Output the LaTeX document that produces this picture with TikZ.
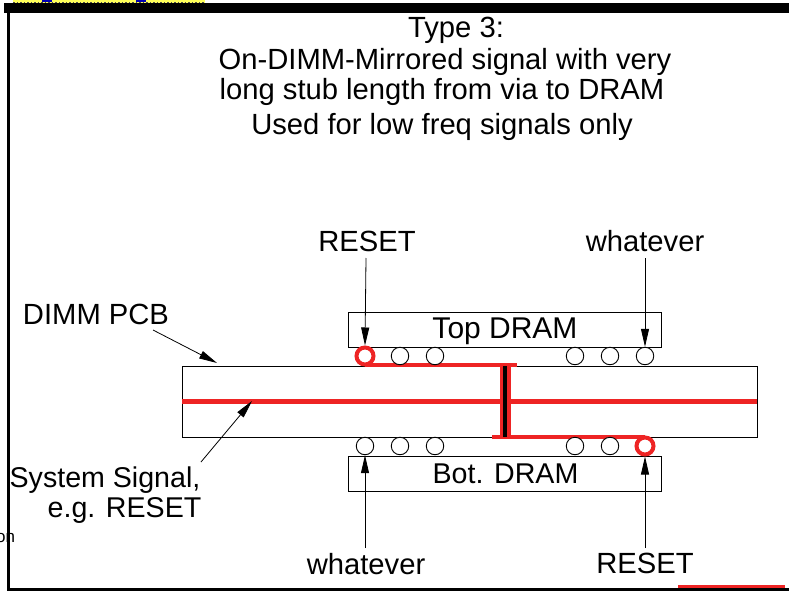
\documentclass[tikz,border=0pt]{standalone}
\usepackage{fontspec}
\setmainfont{Liberation Sans}
\usetikzlibrary{arrows.meta}
\definecolor{redc}{RGB}{238,36,36}
\definecolor{yel}{RGB}{255,255,90}
\tikzset{
  x=1pt,y=-1pt,
  lbl/.style={inner sep=0pt,font=\fontsize{29.2pt}{34pt}\selectfont,text=black,anchor=base},
  lblsm/.style={inner sep=0pt,font=\fontsize{28.6pt}{34pt}\selectfont,text=black,anchor=base},
  lblbg/.style={inner sep=0pt,font=\fontsize{30pt}{34pt}\selectfont,text=black,anchor=base},
  box/.style={draw=black,line width=0.9pt,fill=white,inner sep=0pt,minimum width=313pt,minimum height=35pt},
  ball/.style={circle,draw=black,line width=0.9pt,fill=white,inner sep=0pt,minimum size=17.5pt},
  hot/.style={circle,draw=redc,line width=4pt,fill=white,inner sep=0pt,minimum size=17pt},
  ptr/.style={draw=black,line width=0.8pt,-{Triangle[length=18pt,width=8pt]}},
  trace/.style={draw=redc,line width=4.2pt}
}
\begin{document}
\begin{tikzpicture}
\useasboundingbox (0,0) rectangle (789,591);
\fill[white] (0,0) rectangle (789,591);
% frame and clipped neighbours
\fill[yel] (13,0) rectangle (205,3);
\draw[black!70,line width=1pt,dash pattern=on 1.5pt off 2pt] (13,2.5) -- (205,2.5);
\draw[blue!70!black,line width=1.5pt] (42,1) -- (52,1) (136,1) -- (146,1);
\fill[black] (4,3) rectangle (789,13);
\fill[black] (7,13) rectangle (10,591);
\fill[black] (7,588) rectangle (789,591);
\fill[redc] (678,584.5) rectangle (785,588);
\node[inner sep=0pt,anchor=base west,font=\fontsize{17pt}{20pt}\selectfont] (frag) at (-4,542) {on};
% titles
\node[lbl] (t1) at (456,38) {Type 3:};
\node[lbl] (t2) at (445,70) {On-DIMM-Mirrored signal with very};
\node[lbl] (t3) at (442,100) {long stub length from via to DRAM};
\node[lbl] (t4) at (442,135) {Used for low freq signals only};
% PCB and DRAMs
\node[draw=black,line width=0.9pt,fill=white,inner sep=0pt,minimum width=575pt,minimum height=71pt] (pcb) at (469.5,401.5) {};
\node[box] (top) at (504.5,329.5) {};
\node[box] (bot) at (504.5,473.5) {};
\node[lblbg] at (505,338) {Top DRAM};
\node[lblsm] at (505.5,483) {Bot. DRAM};
% traces
\coordinate (mL) at (pcb.west);
\coordinate (mR) at (pcb.east);
\coordinate (vT) at (505,366);
\coordinate (vB) at (505,437);
\draw[trace] (mL) -- (mR);
\draw[trace] (365,365) -- (517,365);
\draw[trace] (492,437) -- (645,437);
\draw[draw=redc,line width=11pt] (vT) -- (vB);
\draw[draw=black,line width=4.5pt] (vT) -- (vB);
% balls
\node[hot] (a1) at (365,356) {};
\node[ball] (a2) at (400,356) {};
\node[ball] (a3) at (435,356) {};
\node[ball] (a4) at (575,356) {};
\node[ball] (a5) at (610,356) {};
\node[ball] (a6) at (645,356) {};
\node[ball] (b1) at (365,446) {};
\node[ball] (b2) at (400,446) {};
\node[ball] (b3) at (435,446) {};
\node[ball] (b4) at (575,446) {};
\node[ball] (b5) at (610,446) {};
\node[hot] (b6) at (645,446) {};
% labels
\node[lbl] (lr) at (367,251) {RESET};
\node[lbl] (lw) at (645,251) {whatever};
\node[lbl] (ld) at (96,324) {DIMM PCB};
\node[lblsm] (ls1) at (105,487) {System Signal,};
\node[lblsm] (ls2) at (124.5,517) {e.g. RESET};
\node[lbl] (bw) at (366,574) {whatever};
\node[lbl] (br) at (645,573) {RESET};
% pointers
\coordinate (pd) at (217,363);
\coordinate (ps) at (252,401);
\coordinate (ld0) at (153,330);
\coordinate (ls0) at (201,462);
\draw[ptr] (366,258) -- (a1.north);
\draw[ptr] (645,258) -- (a6.north);
\draw[ptr] (ld0) -- (pd);
\draw[ptr] (ls0) -- (ps);
\draw[ptr] (365,548) -- (b1.south);
\draw[ptr] (645,548) -- (b6.south);
\end{tikzpicture}
\end{document}
